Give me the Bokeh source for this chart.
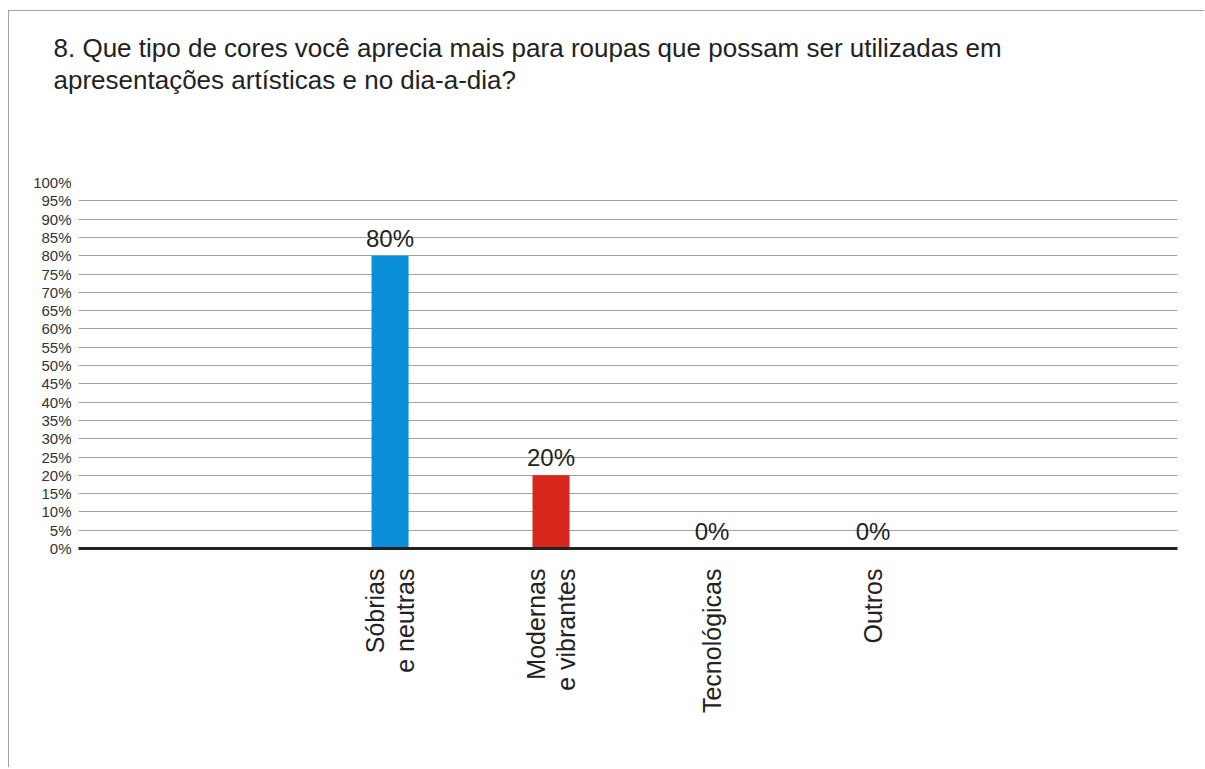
import math
from bokeh.plotting import figure
from bokeh.models import (ColumnDataSource, Range1d, FixedTicker, PrintfTickFormatter,
                          LabelSet, Title)
from bokeh.core.properties import value
from bokeh.embed import file_html
from bokeh.resources import INLINE

# ---- data ----
title_lines = [
    "8. Que tipo de cores você aprecia mais para roupas que possam ser utilizadas em",
    "apresentações artísticas e no dia-a-dia?",
]
categories = ["Sóbrias\ne neutras", "Modernas\ne vibrantes", "Tecnológicas", "Outros"]
values = [80, 20, 0, 0]
colors = ["#0a8fd8", "#d8261d", "#d8261d", "#d8261d"]
y_ticks = list(range(0, 101, 5))

FONT = "Liberation Sans"

# ---- layout (page pixels) ----
OX, OY = 9, 11                 # canvas origin on the page (inside the grey border)
CW, CH = 1196, 757             # canvas size
FL, FR, FT, FB = 78, 1177, 182, 548   # plot frame edges on the page

positions = list(range(1, len(categories) + 1))
source = ColumnDataSource(dict(
    x=positions,
    value=values,
    color=colors,
    label=[f"{v}%" for v in values],
))

p = figure(width=CW, height=CH, output_backend="svg", toolbar_location=None,
           x_range=Range1d(-0.935, 5.891), y_range=Range1d(0, 100),
           min_border_left=FL - OX, min_border_right=OX + CW - FR,
           min_border_top=FT - OY, min_border_bottom=OY + CH - FB)
p.margin = (OY - 1, 0, 0, OX - 1)
p.styles = {"border-left": "1px solid #a0a0a0", "border-top": "1px solid #a0a0a0"}
p.outline_line_color = None
p.background_fill_color = "white"
p.border_fill_color = "white"

p.vbar(x="x", top="value", width=0.23, bottom=0, fill_color="color", line_color=None, source=source)

labels = LabelSet(x="x", y="value", text="label", source=source, y_offset=9,
                  text_align="center", text_baseline="alphabetic",
                  text_font=value(FONT), text_font_size=value("24px"), text_color=value("#222222"))
p.add_layout(labels)

# axes
p.xaxis.ticker = FixedTicker(ticks=positions)
p.xaxis.major_label_overrides = {pos: cat for pos, cat in zip(positions, categories)}
p.xaxis.major_label_orientation = math.pi / 2
p.xaxis.major_label_text_font = FONT
p.xaxis.major_label_text_font_size = "25px"
p.xaxis.major_label_text_line_height = 1.05
p.xaxis.major_label_text_color = "#222222"
p.xaxis.major_label_standoff = 20
p.xaxis.major_tick_out = 0
p.xaxis.major_tick_in = 0
p.xaxis.minor_tick_out = 0
p.xaxis.minor_tick_in = 0
p.xaxis.axis_line_width = 3
p.xaxis.axis_line_color = "#222222"

p.yaxis.ticker = FixedTicker(ticks=y_ticks)
p.yaxis.formatter = PrintfTickFormatter(format="%d%%")
p.yaxis.major_label_text_font = FONT
p.yaxis.major_label_text_font_size = "15px"
p.yaxis.major_label_text_color = "#333333"
p.yaxis.major_label_standoff = 7
p.yaxis.major_tick_out = 0
p.yaxis.major_tick_in = 0
p.yaxis.minor_tick_out = 0
p.yaxis.minor_tick_in = 0
p.yaxis.axis_line_color = None

p.xgrid.grid_line_color = None
p.ygrid.grid_line_color = "#a0a0a0"
p.ygrid.grid_line_width = 1

# spacer between the title block and the plot frame
p.add_layout(Title(text=" ", text_font_size="1px", standoff=85), "above")
# title: two lines, last added sits farthest from the frame
title_line_heights = [1.0, 0.91]
for line, lh in reversed(list(zip(title_lines, title_line_heights))):
    p.add_layout(Title(text=line, align="left", offset=53 - FL, standoff=0,
                       text_font=FONT, text_font_size="26px", text_color="#222222",
                       text_font_style="normal", text_line_height=lh), "above")

open("out.html", "w").write(file_html(p, INLINE))
